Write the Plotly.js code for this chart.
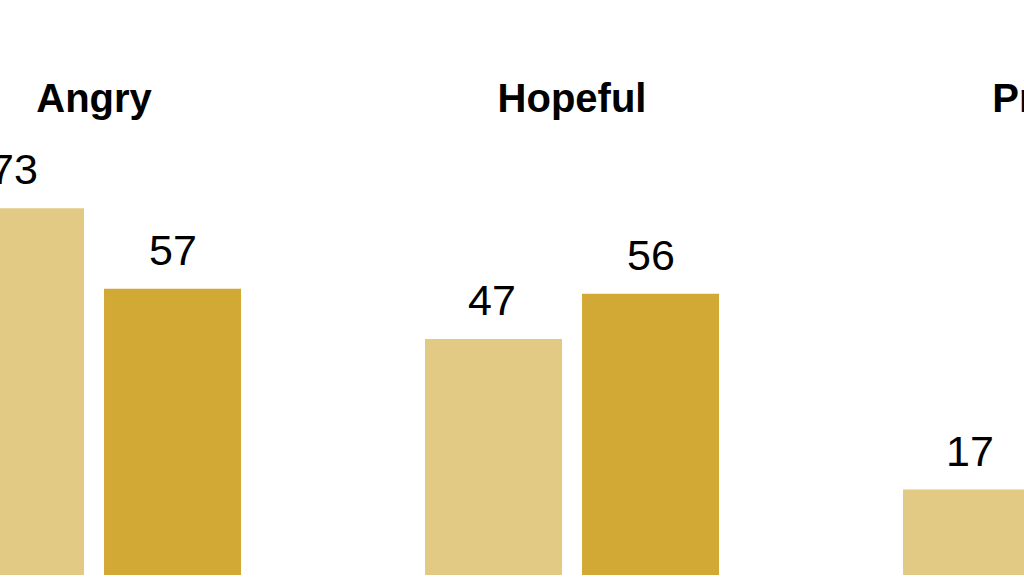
<!DOCTYPE html>
<html>
<head>
<meta charset="utf-8">
<script src="https://cdn.plot.ly/plotly-3.0.1.min.js"></script>
<style>html,body{margin:0;padding:0;background:#fff;overflow:hidden;width:1024px;height:577px;}#chart{width:1300px;height:577px;}</style>
</head>
<body>
<div id="chart"></div>
<script>
const categories = ["Angry", "Hopeful", "Proud"];
const seriesNames = ["Series A", "Series B"];
const seriesA = [73, 47, 17];
const seriesB = [57, 56, null];
const colors = ["#E2CA84", "#D2A934"];

const traces = [seriesA, seriesB].map((vals, i) => ({
  type: "bar",
  name: seriesNames[i],
  x: categories,
  y: vals,
  marker: {color: colors[i], line: {width: 0}},
  hoverinfo: "x+y+name"
}));

const annotations = [];
[seriesA, seriesB].forEach((vals, i) => {
  vals.forEach((v, j) => {
    if (v === null) return;
    annotations.push({
      x: categories[j], y: v, xref: "x", yref: "y",
      text: String(v), showarrow: false,
      xanchor: "center", yanchor: "bottom",
      xshift: i === 0 ? -80.5 : 78.5, yshift: 13,
      font: {family: "Liberation Sans, Arial, sans-serif", size: 43, color: "#000"}
    });
  });
});

const layout = {
  width: 1300, height: 577,
  margin: {l: 0, r: 0, t: 125, b: 2, pad: 0},
  paper_bgcolor: "#fff", plot_bgcolor: "#fff",
  showlegend: false,
  barmode: "group",
  bargap: 0.3431,
  bargroupgap: 0.1274,
  xaxis: {
    type: "category", side: "top",
    range: [-0.1967, 2.5230],
    showgrid: false, zeroline: false, showline: false, ticks: "",
    ticklabelstandoff: 4,
    tickfont: {family: "Liberation Sans, Arial, sans-serif", size: 40, color: "#000", weight: "bold"},
    fixedrange: true
  },
  yaxis: {
    range: [0, 89.6],
    showgrid: false, zeroline: false, showline: false, showticklabels: false, ticks: "",
    fixedrange: true
  },
  annotations: annotations
};

Plotly.newPlot("chart", traces, layout, {displayModeBar: false, staticPlot: true});
</script>
</body>
</html>
